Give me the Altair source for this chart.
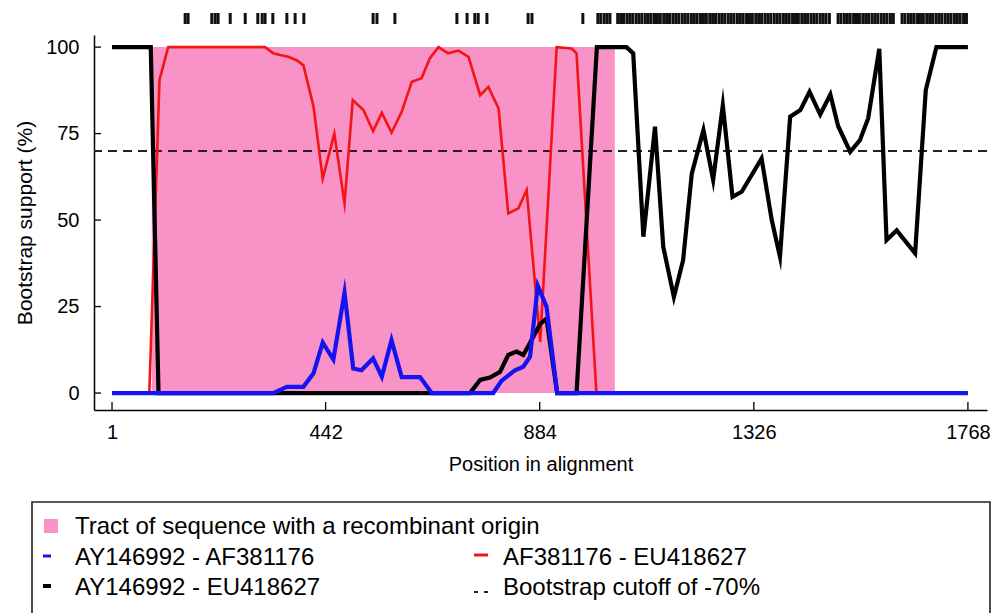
import altair as alt
import pandas as pd

# ---------------- data ----------------
blue_pos = [1, 334, 362, 396, 417, 436, 458, 481, 499, 516, 540, 558, 578, 599, 637, 661,
            788, 805, 833, 850, 864, 880, 898, 920, 1768]
blue_val = [0, 0, 1.8, 1.8, 5.7, 14.6, 9.7, 29, 7.1, 6.6, 10, 4.7, 15.3, 4.6, 4.6, 0,
            0, 3.5, 6.6, 7.6, 10.5, 31, 25, 0, 0]

red_pos = [1, 78, 99, 117, 317, 334, 348, 365, 382, 396, 417, 436, 460, 481, 498, 520, 540,
           558, 578, 599, 620, 640, 657, 675, 695, 716, 737, 761, 778, 799, 819, 840, 857,
           885, 919, 950, 960, 1001, 1768]
red_val = [0, 0, 90.5, 100, 100, 98.2, 97.7, 97.2, 96.2, 94.8, 82.8, 62, 75, 54.8, 84.7, 81.8,
           75.7, 81, 75.3, 81.3, 90, 91, 96.7, 100, 98.2, 99, 97.2, 86.1, 88.5, 82.3, 51.9,
           53.4, 58.7, 14.8, 100, 99.6, 98.2, 0, 0]

black_pos = [1, 81, 97, 740, 761, 781, 802, 819, 836, 850, 864, 885, 898, 920, 960, 1002,
             1063, 1077, 1098, 1122, 1139, 1161, 1180, 1198, 1222, 1242, 1262, 1282, 1301,
             1342, 1363, 1380, 1401, 1422, 1441, 1463, 1484, 1500, 1525, 1545, 1562, 1585,
             1600, 1621, 1659, 1681, 1703, 1768]
black_val = [100, 100, 0, 0, 3.8, 4.5, 6.1, 11, 12, 11, 14.5, 20, 21.5, 0, 0, 100,
             100, 98.2, 45.2, 77, 42.3, 27.8, 38.4, 63.5, 76, 61.6, 83.2, 56.7, 58.2,
             67.8, 50, 39.4, 79.9, 81.8, 87.1, 80.5, 86.3, 77.2, 69.7, 73.1, 79.4, 99.5,
             44.2, 47, 40.4, 87.6, 100, 100]

tract_start = [83]
tract_end = [1039]
tract_low = [0]
tract_high = [100]
cutoff_val = [70]

x_ticks = [1, 442, 884, 1326, 1768]
y_ticks = [0, 25, 50, 75, 100]

site_pos = [152, 158, 207, 214, 220, 245, 276, 302, 311, 317, 333, 362, 379, 397, 540, 548,
            585, 713, 734, 750, 757, 775, 860, 868, 973,
            1004, 1010, 1017, 1023, 1029, 1045, 1051, 1057, 1064, 1070, 1076, 1083, 1089,
            1095, 1102, 1108, 1114, 1121, 1127, 1133, 1140, 1146, 1152, 1159, 1165, 1171,
            1178, 1184, 1190, 1197, 1203, 1209, 1216, 1222, 1228, 1235, 1241, 1247, 1254,
            1260, 1266, 1273, 1279, 1285, 1292, 1298, 1304, 1311, 1317, 1323, 1330, 1336,
            1342, 1349, 1355, 1361, 1368, 1374, 1380, 1387, 1393, 1399, 1406, 1412, 1418,
            1425, 1431, 1437, 1444, 1450, 1456, 1463, 1469, 1475, 1482, 1500, 1506, 1513,
            1519, 1525, 1532, 1538, 1544, 1551, 1557, 1563, 1570, 1576, 1582, 1589, 1595,
            1601, 1608, 1614, 1632, 1638, 1645, 1651, 1657, 1664, 1670, 1676, 1683, 1689,
            1695, 1702, 1708, 1714, 1721, 1727, 1733, 1740, 1746, 1752, 1759, 1765]

legend_labels = ["Tract of sequence with a recombinant origin",
                 "AY146992 - AF381176",
                 "AY146992 - EU418627",
                 "AF381176 - EU418627",
                 "Bootstrap cutoff of -70%"]

# ---------------- styling ----------------
FONT = "Liberation Sans"
PINK = "#F992C6"
BLUE = "#1414F0"
RED = "#F41414"
BLACK = "#000000"
W, H = 893, 375

xscale = alt.Scale(domain=[-36.2, 1807.4], nice=False, zero=False)
yscale = alt.Scale(domain=[-4.9, 103.5], nice=False, zero=False)

xaxis = alt.Axis(values=x_ticks, format="d", ticks=False, grid=False, labelFont=FONT,
                 labelFontSize=20, labelColor="black", labelPadding=12, labelFlush=False,
                 title="Position in alignment", titleFont=FONT, titleFontSize=20,
                 titleFontWeight="normal", titleColor="black", titlePadding=12,
                 domainColor="black", domainWidth=1.5)
yaxis = alt.Axis(values=y_ticks, format="d", ticks=False, grid=False, labelFont=FONT,
                 labelFontSize=20, labelColor="black", labelPadding=15, labelFlush=False,
                 title="Bootstrap support (%)", titleFont=FONT, titleFontSize=21,
                 titleFontWeight="normal", titleColor="black", titlePadding=10,
                 domainColor="black", domainWidth=1.5)

X = alt.X("pos:Q", scale=xscale, axis=xaxis)
Y = alt.Y("val:Q", scale=yscale, axis=yaxis)

one = pd.DataFrame({"k": [0]})

# ---------------- layers ----------------
tract_df = pd.DataFrame({"pos": tract_start, "pos2": tract_end, "val": tract_low, "val2": tract_high})
tract = alt.Chart(tract_df).mark_rect(color=PINK, opacity=1).encode(
    x=X, x2="pos2:Q", y=Y, y2="val2:Q")

cut_df = pd.DataFrame({"val": cutoff_val})
cut = alt.Chart(cut_df).mark_rule(color="#222222", strokeWidth=2, strokeDash=[9, 6]).encode(y=Y)

def series(pos, val, color, width):
    df = pd.DataFrame({"pos": pos, "val": val})
    return alt.Chart(df).mark_line(color=color, strokeWidth=width, strokeJoin="miter",
                                   strokeMiterLimit=10).encode(x=X, y=Y)

red = series(red_pos, red_val, RED, 2.6)
black = series(black_pos, black_val, BLACK, 4.2)
blue = series(blue_pos, blue_val, BLUE, 4.2)

sites_df = pd.DataFrame({"pos": site_pos})
sites = alt.Chart(sites_df).mark_rule(color="#111111", strokeWidth=3).encode(
    x=X, y=alt.value(-22), y2=alt.value(-11))

ytick_df = pd.DataFrame({"val": y_ticks})
yticks = alt.Chart(ytick_df).mark_rule(color="black", strokeWidth=1.3).encode(
    y=Y, x=alt.value(0), x2=alt.value(7))
xtick_df = pd.DataFrame({"pos": x_ticks})
xticks = alt.Chart(xtick_df).mark_rule(color="black", strokeWidth=1.3).encode(
    x=X, y=alt.value(H - 8), y2=alt.value(H))

# ---------------- legend (drawn below the plot) ----------------
def lg_rect(x, x2, y, y2, **kw):
    return alt.Chart(one).mark_rect(**kw).encode(
        x=alt.value(x), x2=alt.value(x2), y=alt.value(y), y2=alt.value(y2))

def lg_rule(x, x2, y, **kw):
    return alt.Chart(one).mark_rule(**kw).encode(
        x=alt.value(x), x2=alt.value(x2), y=alt.value(y))

def lg_text(x, y, label):
    return alt.Chart(one).mark_text(align="left", baseline="middle", font=FONT,
                                    fontSize=24, color="black").encode(
        x=alt.value(x), y=alt.value(y), text=alt.value(label))

legend = [
    lg_rect(-62, 896, 467, 640, fill="white", fillOpacity=0, stroke="#222222", strokeWidth=1.6),
    lg_rect(-50, -36, 484, 498, color=PINK),
    lg_text(-19, 492, legend_labels[0]),
    lg_rule(-51, -43, 521, color=BLUE, strokeWidth=3),
    lg_text(-19, 523, legend_labels[1]),
    lg_rule(-51, -43, 551, color=BLACK, strokeWidth=4),
    lg_text(-19, 553, legend_labels[2]),
    lg_rule(380, 394, 520, color=RED, strokeWidth=3),
    lg_text(409, 523, legend_labels[3]),
    lg_rule(380, 394, 557, color="#222222", strokeWidth=2, strokeDash=[4, 6]),
    lg_text(409, 553, legend_labels[4]),
]

chart = alt.layer(tract, cut, red, black, blue, sites, yticks, xticks, *legend).properties(
    width=W, height=H,
    padding={"left": 86, "top": 27, "right": 8, "bottom": 203},
    autosize="none",
    background="white",
).configure_view(stroke=None)

chart.save("out.html", embed_options={"renderer": "svg", "actions": False})
